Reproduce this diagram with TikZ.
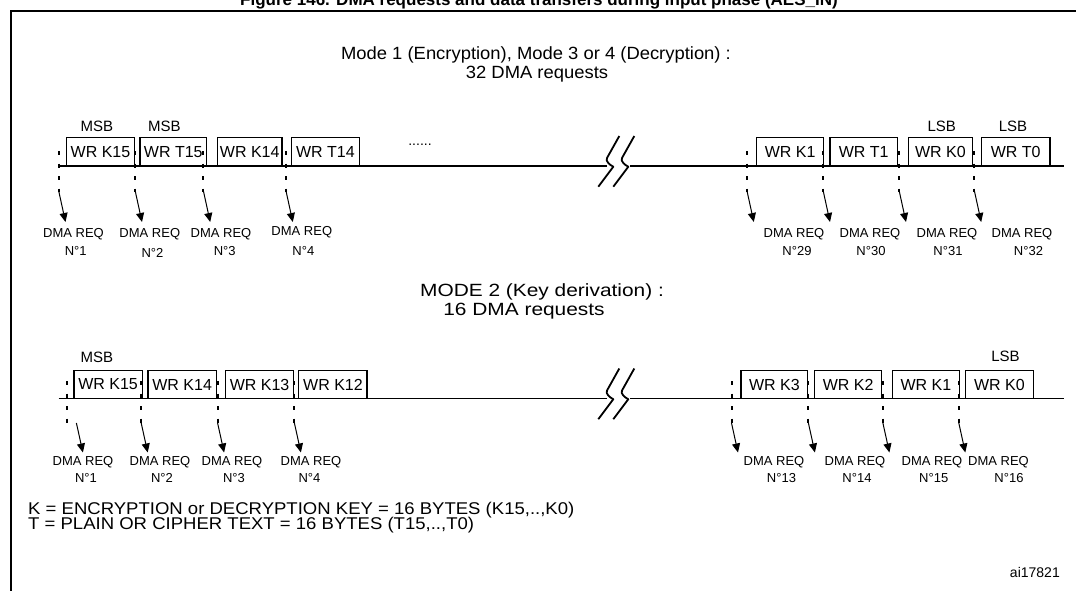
\documentclass[tikz,border=0pt]{standalone}
\usepackage{fontspec}
\setmainfont{Liberation Sans}
\usetikzlibrary{arrows.meta}
\begin{document}
\begin{tikzpicture}[x=1pt,y=-1pt,
  wr/.style={draw=black,line width=1.1pt,fill=white,minimum height=28.5pt,inner sep=0pt,font=\fontsize{16}{19}\selectfont},
  bitlbl/.style={font=\fontsize{15}{18}\selectfont,inner sep=0pt},
  dmalbl/.style={font=\fontsize{13}{15}\selectfont,inner sep=0pt},
  hdr/.style={font=\fontsize{17.7}{21}\selectfont,inner sep=0pt,anchor=base},
  legendtxt/.style={font=\fontsize{17}{20}\selectfont,inner sep=0pt,anchor=base west},
  titletxt/.style={font=\bfseries\fontsize{17}{20}\selectfont,inner sep=0pt,anchor=base},
  dashline/.style={line width=2pt,dash pattern=on 4pt off 8.5pt},
  req/.style={line width=1pt,-{Triangle[length=9pt,width=8pt]}},
  timeline/.style={line width=1.1pt},
  brk/.style={line width=1.8pt,line join=round},
  outerframe/.style={line width=2pt}
]
\useasboundingbox (0,0) rectangle (1076,590);

% title (cut by the top edge) and frame
\node[titletxt] (title) at (539,5) {Figure 146. DMA requests and data transfers during input phase (AES\_IN)};
\coordinate (fA) at (10.5,600);
\coordinate (fB) at (10.5,11);
\coordinate (fC) at (1090,11);
\draw[outerframe] (fA) -- (fB) -- (fC);

% headers
\node[hdr] (h1a) at (536,59.5) {\scalebox{1.04}[1]{Mode 1 (Encryption), Mode 3 or 4 (Decryption) :}};
\node[hdr] (h1b) at (537,78.5) {\scalebox{1.04}[1]{32 DMA requests}};
\node[hdr] (h2a) at (542,296.5) {\scalebox{1.18}[1]{MODE 2 (Key derivation) :}};
\node[hdr] (h2b) at (524,315.5) {\scalebox{1.18}[1]{16 DMA requests}};

% ---------- row 1 ----------
\coordinate (lAs) at (58,166);
\coordinate (lAb) at (607,166);
\coordinate (lAc) at (630,166);
\coordinate (lAe) at (1064,166);
\draw[timeline] (lAs) -- (lAb);
\draw[timeline] (lAc) -- (lAe);
\draw[brk] (619.3,136) -- (607,158) .. controls (605.3,161) and (609.5,164.8) .. (613.3,166.7) -- (598.3,186.7);
\draw[brk] (634.3,136) -- (622,158) .. controls (620.3,161) and (624.5,164.8) .. (628.3,166.7) -- (613.3,186.7);

\foreach \nm/\xl/\xr/\tx in {rA1/66.5/134.5/WR K15, rA2/140/206.5/WR T15, rA3/217.5/282/WR K14, rA4/291.7/359.2/WR T14, rA5/756.4/823.8/WR K1, rA6/830/897.3/WR T1, rA7/908.3/972.5/WR K0, rA8/981.5/1050/WR T0}
  \node[wr,minimum width={\xr-\xl}] (\nm) at ({(\xl+\xr)/2},151.75) {\tx};

\node[bitlbl] (msbA1) at (97,126.5) {MSB};
\node[bitlbl] (msbA2) at (164.4,126.5) {MSB};
\node[bitlbl] (lsbA1) at (941.7,126.5) {LSB};
\node[bitlbl] (lsbA2) at (1013,126.5) {LSB};
\node[font=\fontsize{14}{16}\selectfont,inner sep=0pt,anchor=base] (dotsA) at (420,145.5) {......};

\foreach \i/\x in {1/58.5,2/135,3/203.2,4/285.8,5/746.8,6/823,7/899,8/974.2}{
  \coordinate (dAt\i) at (\x,151);
  \coordinate (dAb\i) at (\x,192);
  \draw[dashline] (dAt\i) -- (dAb\i);
  \coordinate (aAs\i) at (\x,190);
  \coordinate (aAe\i) at ({\x+7},222);
  \draw[req] (aAs\i) -- (aAe\i);
}

\foreach \i/\x/\y/\nx/\ny/\n in {1/73.5/234/75.7/251/1, 2/149.8/234/152.5/253/2, 3/221/234/224.7/251/3, 4/301.8/232.5/303.4/251/4, 5/794/234/797/251/29, 6/870/234/871/251/30, 7/947/234/948/251/31, 8/1022/234/1028.5/251/32}{
  \node[dmalbl] (qA\i) at (\x,\y) {DMA REQ};
  \node[dmalbl] (nA\i) at (\nx,\ny) {N°\n};
}

% ---------- row 2 ----------
\coordinate (lBs) at (58.5,398.5);
\coordinate (lBb) at (607,398.5);
\coordinate (lBc) at (630,398.5);
\coordinate (lBe) at (1064,398.5);
\draw[timeline] (lBs) -- (lBb);
\draw[timeline] (lBc) -- (lBe);
\draw[brk] (619.3,368.5) -- (607,390.5) .. controls (605.3,393.5) and (609.5,397.3) .. (613.3,399.2) -- (598.3,419.2);
\draw[brk] (634.3,368.5) -- (622,390.5) .. controls (620.3,393.5) and (624.5,397.3) .. (628.3,399.2) -- (613.3,419.2);

\foreach \nm/\xl/\xr/\tx in {rB1/74/142.2/WR K15, rB2/148/216.3/WR K14, rB3/225.5/293.7/WR K13, rB4/298.9/367/WR K12, rB5/741/807.7/WR K3, rB6/814.5/881.9/WR K2, rB7/892.1/959.8/WR K1, rB8/965.6/1033.3/WR K0}
  \node[wr,minimum width={\xr-\xl}] (\nm) at ({(\xl+\xr)/2},384.5) {\tx};

\node[bitlbl] (msbB1) at (97,357) {MSB};
\node[bitlbl] (lsbB1) at (1005.5,356) {LSB};

\foreach \i/\x/\sx in {1/66.5/76.4,2/141.2/141.2,3/217.6/217.6,4/293.7/294.4,5/731.5/731.5,6/808.4/808.4,7/882.9/882.9,8/958.8/958.8}{
  \coordinate (dBt\i) at (\x,381);
  \coordinate (dBb\i) at (\x,424);
  \draw[dashline] (dBt\i) -- (dBb\i);
  \coordinate (aBs\i) at (\sx,423);
  \coordinate (aBe\i) at ({\sx+6.5},452.5);
  \draw[req] (aBs\i) -- (aBe\i);
}

\foreach \i/\x/\nx/\n in {1/83/86/1, 2/160/162/2, 3/232/234/3, 4/311/309.5/4, 5/774/781.5/13, 6/855/857/14, 7/932/933.7/15, 8/998.5/1009/16}{
  \node[dmalbl] (qB\i) at (\x,462.5) {DMA REQ};
  \node[dmalbl] (nB\i) at (\nx,478) {N°\n};
}

% ---------- legend ----------
\node[legendtxt] (legK) at (28,514.5) {\scalebox{1.09}[1]{K = ENCRYPTION or DECRYPTION KEY = 16 BYTES (K15,..,K0)}};
\node[legendtxt] (legT) at (28,529.5) {\scalebox{1.09}[1]{T = PLAIN OR CIPHER TEXT = 16 BYTES (T15,..,T0)}};
\node[font=\fontsize{14}{16}\selectfont,inner sep=0pt,anchor=base east] (ref) at (1060,577) {ai17821};
\end{tikzpicture}
\end{document}
